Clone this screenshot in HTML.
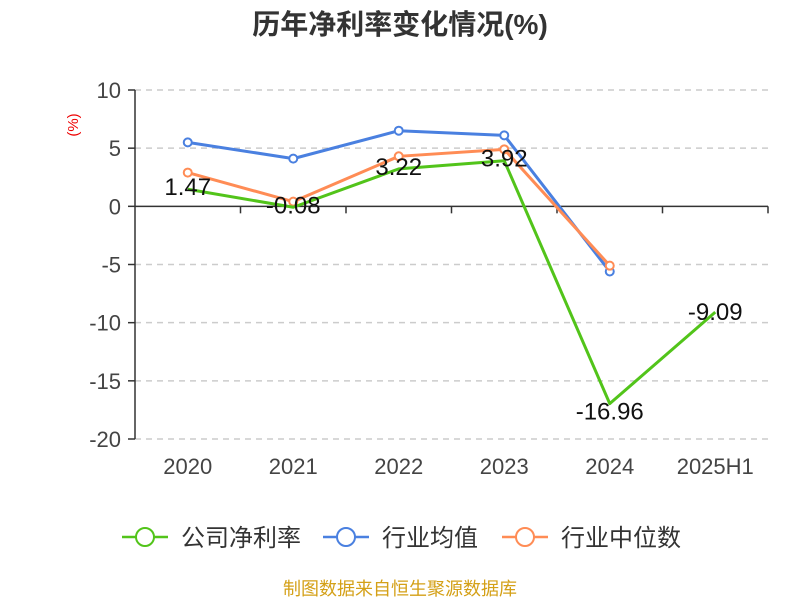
<!DOCTYPE html>
<html><head><meta charset="utf-8"><style>
body{margin:0;background:#fff;font-family:"Liberation Sans","Noto Sans CJK SC",sans-serif}
</style></head><body>
<svg width="800" height="600" font-family="Liberation Sans, Noto Sans CJK SC, sans-serif">
<text x="400" y="34" text-anchor="middle" font-size="28" font-weight="bold" fill="#333">历年净利率变化情况(%)</text>
<text transform="translate(78,125) rotate(-90)" text-anchor="middle" font-size="15" fill="#e00">(%)</text>
<g id="grid"></g><g id="axes"></g><g id="series"></g><g id="labels"></g>
<g font-size="24" fill="#333">
<g><line x1="122" y1="537" x2="168" y2="537" stroke="#52c41a" stroke-width="2.5"/><circle cx="145" cy="537" r="9" fill="#fff" stroke="#52c41a" stroke-width="2"/><text x="181" y="546">公司净利率</text></g>
<g><line x1="323" y1="537" x2="369" y2="537" stroke="#4a80e0" stroke-width="2.5"/><circle cx="346" cy="537" r="9" fill="#fff" stroke="#4a80e0" stroke-width="2"/><text x="382" y="546">行业均值</text></g>
<g><line x1="502" y1="537" x2="548" y2="537" stroke="#ff8c55" stroke-width="2.5"/><circle cx="525" cy="537" r="9" fill="#fff" stroke="#ff8c55" stroke-width="2"/><text x="561" y="546">行业中位数</text></g>
</g>
<text x="400" y="595" text-anchor="middle" font-size="18" fill="#d4a017">制图数据来自恒生聚源数据库</text>
</svg>
<script>
const categories=["2020","2021","2022","2023","2024","2025H1"];
const company=[1.47,-0.08,3.22,3.92,-16.96,-9.09];
const industryAvg=[5.5,4.1,6.5,6.1,-5.6];
const industryMedian=[2.9,0.4,4.3,4.9,-5.1];
const yTicks=[10,5,0,-5,-10,-15,-20];
const NS="http://www.w3.org/2000/svg";
const x0=135,x1=768,yTop=90,yBot=439,yMax=10,yMin=-20;
const band=(x1-x0)/categories.length;
const xs=i=>x0+band*(i+0.5);
const ys=v=>yTop+(yMax-v)/(yMax-yMin)*(yBot-yTop);
function mk(tag,attrs,parent,txt){const e=document.createElementNS(NS,tag);for(const k in attrs)e.setAttribute(k,attrs[k]);if(txt!==undefined)e.textContent=txt;document.getElementById(parent).appendChild(e);return e;}
yTicks.forEach(t=>{
 if(t!==0){const g=mk('line',{x1:x0,x2:x1,y1:ys(t),y2:ys(t),stroke:'#ccc','stroke-dasharray':'6,5','stroke-width':1.5},'grid');
 
 }
 const l=mk('text',{x:x0-14,y:ys(t)+8,'text-anchor':'end','font-size':22,fill:'#444'},'axes',String(t));
 
 
 mk('line',{x1:x0-7,x2:x0,y1:ys(t),y2:ys(t),stroke:'#333','stroke-width':1.5},'axes');
});
const ya=mk('line',{x1:x0,x2:x0,y1:yTop,y2:yBot,stroke:'#333','stroke-width':1.5},'axes');


const xa=mk('line',{x1:x0,x2:x1,y1:ys(0),y2:ys(0),stroke:'#333','stroke-width':1.5},'axes');


for(let i=1;i<=categories.length;i++)mk('line',{x1:x0+band*i,x2:x0+band*i,y1:ys(0),y2:ys(0)+7,stroke:'#333','stroke-width':1.5},'axes');
categories.forEach((c,i)=>{const t=mk('text',{x:xs(i),y:474,'text-anchor':'middle','font-size':22,fill:'#444'},'axes',c);
 
 });
function series(arr,color,name,markers){
 const pts=arr.map((v,i)=>xs(i)+','+ys(v)).join(' ');
 const p=mk('polyline',{points:pts,fill:'none',stroke:color,'stroke-width':3,'stroke-linejoin':'round'},'series');
 
 
 if(markers)arr.forEach((v,i)=>{const c=mk('circle',{cx:xs(i),cy:ys(v),r:4,fill:'#fff',stroke:color,'stroke-width':2},'series');
  
  });
}
series(industryAvg,'#4a80e0','industry-avg',true);
series(industryMedian,'#ff8c55','industry-median',true);
series(company,'#52c41a','company',false);
company.forEach((v,i)=>{const t=mk('text',{x:xs(i),y:ys(v)+6,'text-anchor':'middle','font-size':24,fill:'#111'},'labels',v.toFixed(2));
 if(v<-12)t.setAttribute('y',ys(v)+16);
 if(i===5)t.setAttribute('y',ys(v)+8);
 
 });
</script>
</body></html>
